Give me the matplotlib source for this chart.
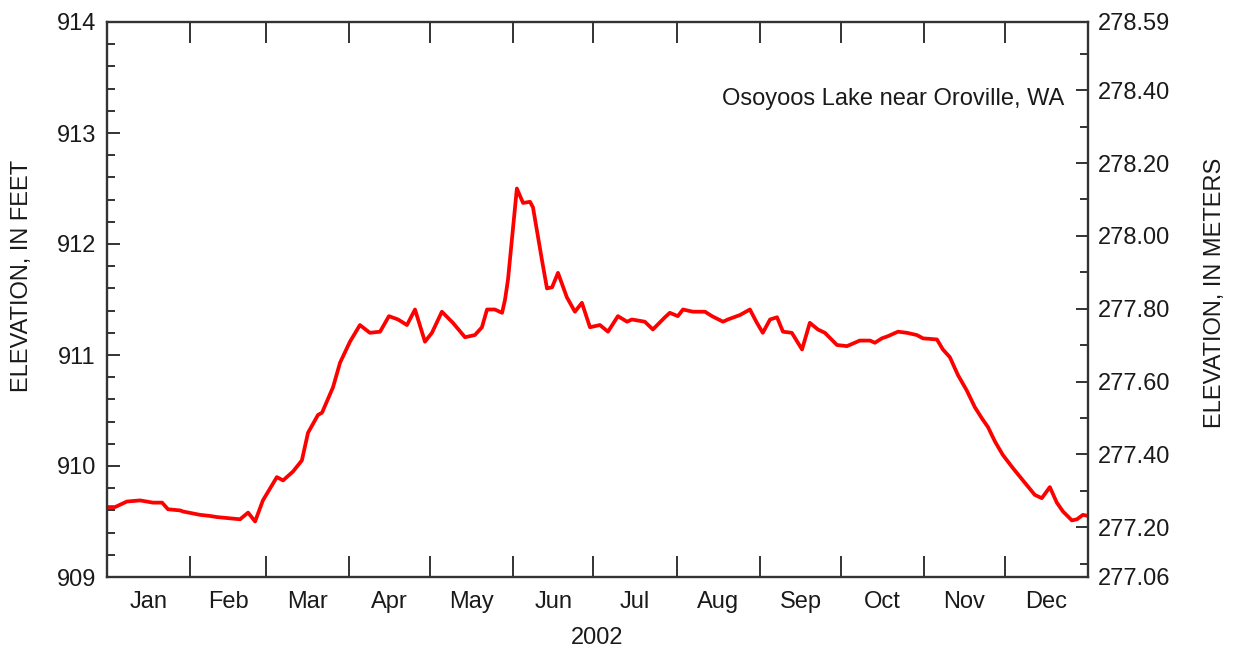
import matplotlib
matplotlib.use("Agg")
import matplotlib.pyplot as plt
from matplotlib.ticker import FixedLocator, MultipleLocator, NullFormatter, FixedFormatter

plt.rcParams['font.family'] = ['Liberation Sans', 'DejaVu Sans']

# Daily lake stage, 2002 (day of year, elevation in feet)
day = [0.0, 3.0, 7.4, 12.3, 17.1, 20.5, 22.7, 27.2, 28.3, 34.6, 38.3, 40.9, 49.5,
       52.5, 55.1, 58.0, 63.2, 65.5, 69.2, 72.5, 74.8, 78.5, 80.0, 84.1, 86.7,
       90.4, 94.1, 97.8, 101.6, 104.9, 108.3, 111.6, 114.6, 118.3, 120.9, 124.6,
       128.7, 133.2, 136.9, 139.5, 141.4, 144.3, 147.0, 148.1, 149.2, 152.5,
       154.8, 157.4, 158.5, 161.8, 163.7, 165.6, 167.8, 171.1, 174.1, 176.7,
       179.7, 183.4, 186.4, 190.1, 193.5, 195.3, 200.1, 203.1, 207.6, 209.4,
       212.4, 214.3, 218.0, 222.5, 225.1, 229.2, 231.0, 235.5, 239.2, 241.8,
       244.0, 246.7, 249.3, 251.5, 254.8, 258.6, 261.5, 264.5, 267.1, 271.6,
       275.3, 280.1, 283.9, 285.7, 288.3, 290.6, 294.3, 297.6, 301.3, 303.6,
       308.8, 311.0, 313.6, 316.6, 319.9, 322.9, 325.5, 327.8, 330.4, 333.3,
       337.1, 340.8, 345.2, 347.8, 350.8, 353.4, 355.7, 359.0, 360.9, 363.1, 365.0]
elev_ft = [909.63, 909.63, 909.68, 909.69, 909.67, 909.67, 909.61, 909.60, 909.59,
           909.56, 909.55, 909.54, 909.52, 909.58, 909.50, 909.69, 909.90, 909.87,
           909.95, 910.05, 910.30, 910.46, 910.48, 910.71, 910.93, 911.12, 911.27,
           911.20, 911.21, 911.35, 911.32, 911.27, 911.41, 911.12, 911.20, 911.39,
           911.29, 911.16, 911.18, 911.25, 911.41, 911.41, 911.38, 911.50, 911.68,
           912.50, 912.37, 912.38, 912.33, 911.86, 911.60, 911.61, 911.74, 911.52,
           911.39, 911.47, 911.25, 911.27, 911.21, 911.35, 911.30, 911.32, 911.30,
           911.23, 911.34, 911.38, 911.35, 911.41, 911.39, 911.39, 911.35, 911.30,
           911.32, 911.36, 911.41, 911.29, 911.20, 911.32, 911.34, 911.21, 911.20,
           911.05, 911.29, 911.23, 911.20, 911.09, 911.08, 911.13, 911.13, 911.11,
           911.15, 911.17, 911.21, 911.20, 911.18, 911.15, 911.14, 911.05, 910.98,
           910.82, 910.68, 910.53, 910.43, 910.35, 910.22, 910.10, 909.98, 909.87,
           909.74, 909.71, 909.81, 909.67, 909.59, 909.51, 909.52, 909.56, 909.55]

month_starts = [0, 31, 59, 90, 120, 151, 181, 212, 243, 273, 304, 334, 365]
month_names = ['Jan', 'Feb', 'Mar', 'Apr', 'May', 'Jun', 'Jul', 'Aug', 'Sep',
               'Oct', 'Nov', 'Dec']
meter_labels = ['277.06', '277.20', '277.40', '277.60', '277.80', '278.00',
                '278.20', '278.40', '278.59']

FT_TO_M = 0.3048
ft_min, ft_max = 909, 914
axis_color = '#333333'
text_color = '#1a1a1a'
fs = 17

fig = plt.figure(figsize=(12.33, 6.49), dpi=100)
ax = fig.add_axes([107 / 1233, 1 - 577 / 649, 981 / 1233, 555 / 649])

ax.plot(day, elev_ft, color='#ff0000', lw=2.7, solid_joinstyle='round',
        solid_capstyle='round')

ax.set_xlim(0, 365)
ax.set_ylim(ft_min, ft_max)

# month boundaries as ticks, month names centred in between
ax.xaxis.set_major_locator(FixedLocator(month_starts[1:-1]))
ax.xaxis.set_major_formatter(NullFormatter())
mids = [(a + b) / 2 for a, b in zip(month_starts[:-1], month_starts[1:])]
ax.xaxis.set_minor_locator(FixedLocator(mids))
ax.xaxis.set_minor_formatter(FixedFormatter(month_names))
ax.tick_params(axis='x', which='major', direction='in', length=15, width=1.4,
               top=True, bottom=True, color=axis_color)
ax.tick_params(axis='x', which='minor', length=0, pad=10, labelsize=fs,
               labelcolor=text_color)

ax.yaxis.set_major_locator(MultipleLocator(1))
ax.yaxis.set_minor_locator(MultipleLocator(0.2))
ax.yaxis.set_major_formatter(plt.FormatStrFormatter('%d'))
ax.tick_params(axis='y', which='major', direction='in', length=9.5, width=1.4,
               labelsize=fs, labelcolor=text_color, pad=8, color=axis_color,
               right=False)
ax.tick_params(axis='y', which='minor', direction='in', length=6, width=1.4,
               color=axis_color, right=False)

for sp in ax.spines.values():
    sp.set_color(axis_color)
    sp.set_linewidth(1.7)

ax.set_xlabel('2002', fontsize=fs, color=text_color, labelpad=10)
ax.set_ylabel('ELEVATION, IN FEET', fontsize=fs, color=text_color,
              rotation=90, va='center')
ax.yaxis.set_label_coords(-85 / 981, 0.542)

# meters on the right-hand axis, ends labelled at the axis limits
m_lo, m_hi = ft_min * FT_TO_M, ft_max * FT_TO_M
ax2 = ax.twinx()
ax2.set_ylim(m_lo, m_hi)
meter_pos = [m_lo] + [float(s) for s in meter_labels[1:-1]] + [m_hi]
ax2.yaxis.set_major_locator(FixedLocator(meter_pos))
ax2.yaxis.set_major_formatter(FixedFormatter(meter_labels))
ax2.yaxis.set_minor_locator(FixedLocator([277.1 + 0.1 * i for i in range(15)]))
ax2.tick_params(axis='y', which='major', direction='in', length=9, width=1.4,
                labelsize=fs, labelcolor=text_color, pad=7, color=axis_color)
ax2.tick_params(axis='y', which='minor', direction='in', length=6, width=1.4,
                color=axis_color)
for sp in ax2.spines.values():
    sp.set_visible(False)
ax2.set_ylabel('ELEVATION, IN METERS', fontsize=fs, color=text_color,
               rotation=90, va='center')
ax2.yaxis.set_label_coords(1 + 127 / 981, 0.512)

ax.text(0.976, 0.862, 'Osoyoos Lake near Oroville, WA', transform=ax.transAxes,
        ha='right', va='center', fontsize=fs, color=text_color)

fig.savefig('out.png', dpi=100)
